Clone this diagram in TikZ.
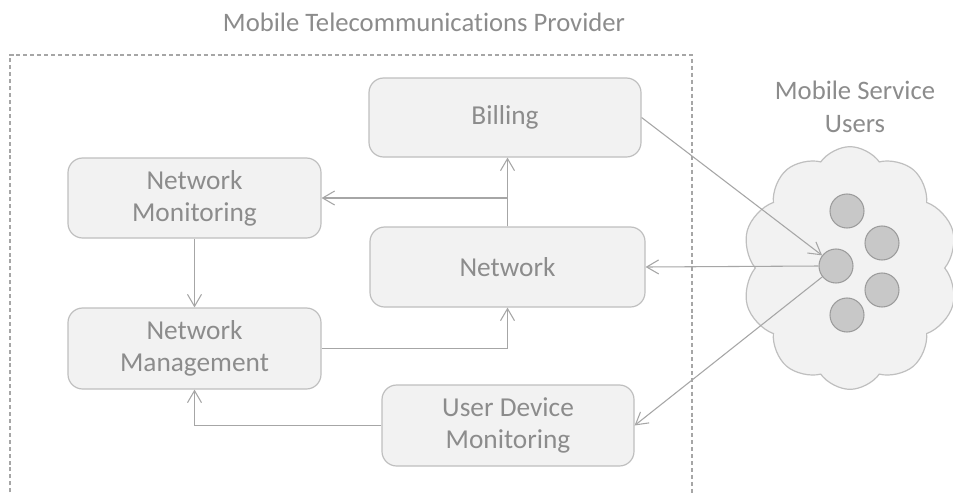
\documentclass[tikz,border=0pt]{standalone}
\usepackage{fontspec}
\setmainfont{Carlito}[RawFeature={-liga}]
\usetikzlibrary{arrows.meta,shapes.symbols}

\definecolor{boxfill}{HTML}{F2F2F2}
\definecolor{boxline}{HTML}{BFBFBF}
\definecolor{txt}{HTML}{8C8C8C}
\definecolor{wire}{HTML}{A6A6A6}
\definecolor{userfill}{HTML}{C8C8C8}
\definecolor{userline}{HTML}{9C9C9C}

\tikzset{
  block/.style={draw=boxline, fill=boxfill, line width=0.9pt, rounded corners=11pt,
    text=txt, align=center, inner sep=0pt,
    font=\fontsize{20.5}{24}\selectfont},
  label text/.style={text=txt, align=center, inner sep=0pt,
    font=\fontsize{20}{24.5}\selectfont},
  arr/.style={draw=wire, line width=0.8pt,
    -{Straight Barb[length=9pt,width=10.5pt,line width=0.8pt]}},
  user/.style={circle, draw=userline, fill=userfill, line width=0.8pt,
    minimum size=25.5pt, inner sep=0pt},
}

\begin{document}
\begin{tikzpicture}[x=0.75pt, y=-0.75pt]
  \clip (0,0) rectangle (953,494);
  \fill[white] (0,0) rectangle (953,494);

  % provider boundary (open at the bottom)
  \draw[wire, line width=0.8pt, dash pattern=on 3pt off 2.2pt]
    (10,520) -- (10,55) -- (692,55) -- (692,520);
  \node[label text] (provider) at (424,22) {Mobile Telecommunications Provider};

  % provider blocks
  \node[block, minimum width=204pt, minimum height=59.25pt] (billing) at (505,117.5) {Billing};
  \node[block, minimum width=206.25pt, minimum height=60pt] (network) at (507.5,267) {Network};
  \node[block, minimum width=189.75pt, minimum height=60pt] (netmon) at (194.5,198) {Network\\Monitoring};
  \node[block, minimum width=189.75pt, minimum height=60.75pt] (netman) at (194.5,348.5) {Network\\Management};
  \node[block, minimum width=189pt, minimum height=60.75pt] (udm) at (508,425.5) {User Device\\Monitoring};

  % users cloud
  \node[cloud, cloud puffs=10, cloud puff arc=110, cloud ignores aspect, draw=boxline, fill=boxfill,
        line width=0.9pt, minimum width=162pt, minimum height=182pt, inner sep=0pt]
        (cloud) at (850,268) {};
  \node[label text] (users) at (855,107) {Mobile Service\\Users};
  \node[user] (u1) at (847,211) {};
  \node[user] (u2) at (882,243) {};
  \node[user] (u3) at (836,266) {};
  \node[user] (u4) at (882,290) {};
  \node[user] (u5) at (847,315) {};

  % internal flows
  \draw[arr] (network.north) -- (network.north |- billing.south);
  \draw[arr] (network.north) |- (netmon.east);
  \draw[arr] (netmon.south) -- (netman.north);
  \draw[arr] (netman.east) -| (network.south);
  \draw[arr] (udm.west) -| (netman.south);

  % flows to and from the users
  \draw[arr] (billing.east) -- (u3);
  \draw[arr] (u3.west) -- (network.east);
  \draw[arr] (u3) -- (udm.east);
\end{tikzpicture}
\end{document}
